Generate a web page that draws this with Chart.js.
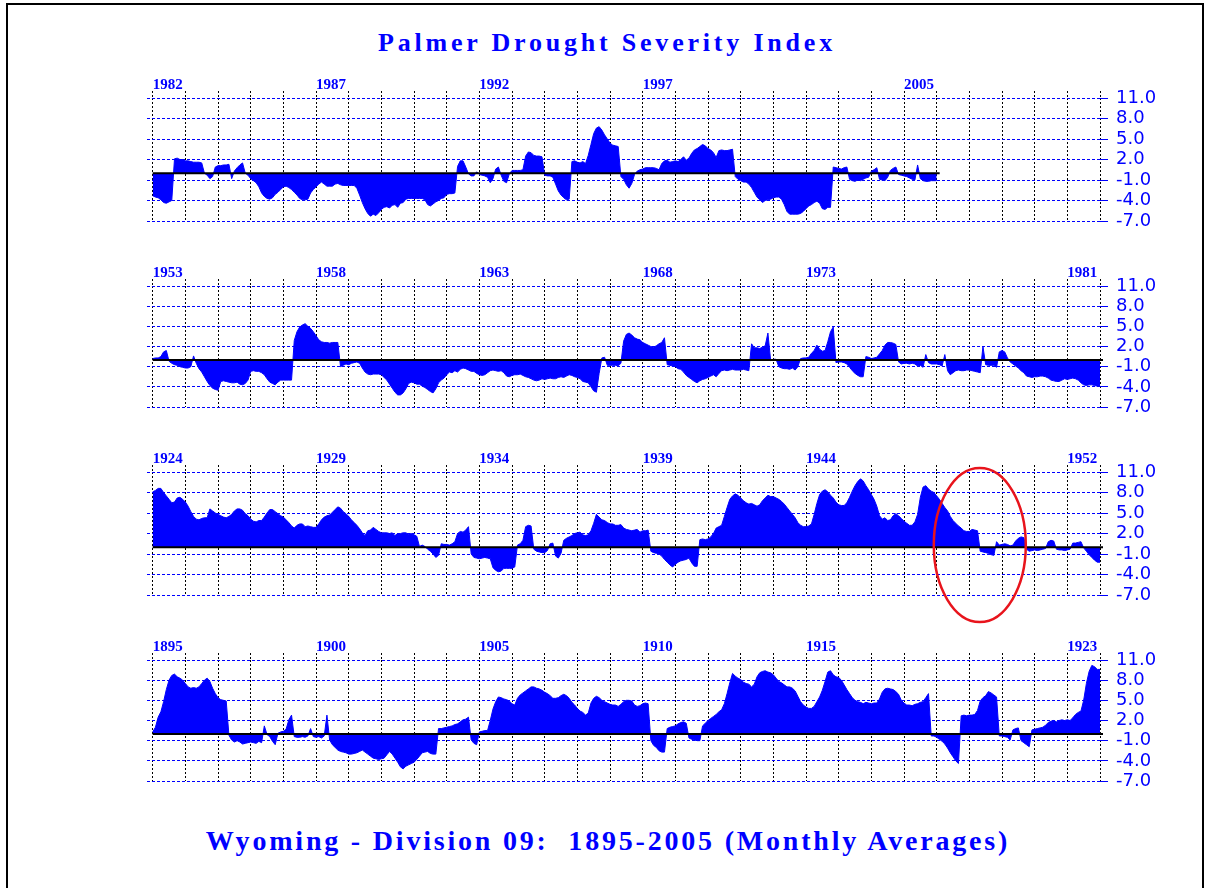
<!DOCTYPE html>
<html>
<head>
<meta charset="utf-8">
<title>Palmer Drought Severity Index</title>
<script src="https://cdn.jsdelivr.net/npm/chart.js@4.4.1/dist/chart.umd.min.js"></script>
<style>
  body { margin: 0; background: #fff; }
  #page { position: relative; width: 1206px; height: 888px; overflow: hidden; background: #fff; }
  #frame { position: absolute; left: 6px; top: 3px; width: 1194px; height: 900px; border: 2px solid #000; border-bottom: none; }
  .title { position: absolute; left: 0; width: 1206px; text-align: center; color: #0000ff;
           font-family: "Liberation Serif", serif; font-weight: bold; line-height: 1; white-space: pre; }
  #topTitle { top: 30px; font-size: 26px; letter-spacing: 3.8px; padding-left: 8px; box-sizing: border-box; }
  #bottomTitle { top: 827px; font-size: 28px; letter-spacing: 2.8px; padding-left: 10px; box-sizing: border-box; }
  canvas { position: absolute; left: 0; }
</style>
</head>
<body>
<div id="page">
  <div id="frame"></div>
  <div class="title" id="topTitle">Palmer Drought Severity Index</div>
  <canvas id="panel1" width="1206" height="180" style="top:68px"></canvas>
  <canvas id="panel2" width="1206" height="180" style="top:256px"></canvas>
  <canvas id="panel3" width="1206" height="190" style="top:442px"></canvas>
  <canvas id="panel4" width="1206" height="180" style="top:630px"></canvas>
  <div class="title" id="bottomTitle">Wyoming - Division 09:  1895-2005 (Monthly Averages)</div>
</div>
<script>
// monthly PDSI values, one row per year
const pdsi1982 = [
  -3.3, -3.5, -3.6, -3.9, -4.3, -4.4, -4.2, -4.0, 2.1, 2.2, 2.0, 2.0,
  1.8, 1.8, 1.7, 1.6, 1.6, 1.6, 1.5, 0.0, -0.3, -0.8, -0.5, 0.9,
  1.1, 1.1, 1.2, 1.2, 1.3, -0.8, 0.3, 0.8, 1.2, 1.5, 0.0, -0.3,
  -0.8, -1.1, -1.4, -2.0, -2.9, -3.4, -3.7, -3.8, -3.6, -3.1, -2.8, -2.4,
  -2.0, -1.9, -2.1, -2.4, -2.8, -3.2, -3.7, -3.9, -3.9, -3.8, -2.9, -2.4,
  -2.0, -1.6, -1.3, -1.6, -1.9, -1.9, -1.9, -1.6, -1.5, -1.7, -1.8, -1.8,
  -1.8, -1.8, -1.8, -2.2, -3.2, -4.3, -5.2, -5.9, -6.3, -6.0, -6.2, -5.8,
  -5.3, -5.0, -4.9, -5.1, -4.7, -4.6, -5.0, -4.4, -4.3, -3.8, -3.7, -3.7,
  -3.7, -3.7, -3.7, -3.7, -3.9, -4.6, -4.8, -4.5, -4.2, -4.0, -3.7, -3.6,
  -3.1, -3.0, -3.0, -2.9, 1.0, 1.8, 1.8, 0.9, -0.1, -0.4, -0.4, 0.2,
  -0.2, -0.3, -0.4, -0.6, -1.4, -0.8, 0.6, 0.9, -0.3, -1.2, -1.4, -0.1,
  0.4, 0.4, 0.4, 0.4, 0.5, 2.5, 3.1, 3.0, 2.6, 2.5, 2.5, 2.4,
  -0.3, -0.4, -0.4, -0.6, -1.6, -2.6, -3.2, -3.6, -3.9, -3.8, 1.7, 1.8,
  1.6, 1.5, 1.7, 1.4, 2.6, 4.2, 5.8, 6.6, 6.8, 6.3, 5.6, 5.0,
  4.4, 4.1, 4.0, 3.9, -0.5, -0.9, -1.7, -2.2, -1.5, -0.2, 0.3, 0.5,
  0.6, 0.8, 0.8, 0.8, 0.8, 0.7, 0.5, 1.4, 1.8, 1.9, 1.6, 1.7,
  1.8, 1.7, 2.0, 2.4, 1.9, 2.2, 2.9, 3.4, 3.6, 3.9, 4.2, 4.0,
  3.6, 3.4, 3.0, 2.3, 3.3, 3.4, 3.3, 3.3, 3.4, 3.5, -0.5, -0.9,
  -1.1, -1.3, -1.3, -1.6, -2.1, -2.8, -3.5, -3.9, -4.3, -4.0, -3.9, -3.8,
  -3.6, -3.5, -3.5, -3.8, -4.6, -5.6, -6.0, -6.0, -6.0, -6.0, -5.9, -5.6,
  -5.2, -4.8, -4.6, -4.3, -4.1, -4.4, -5.2, -5.3, -5.0, -5.0, 0.9, 0.8,
  0.7, 0.6, 0.8, 0.9, -0.9, -1.1, -1.2, -1.0, -1.1, -0.9, -0.7, -0.6,
  0.3, 0.5, 0.8, -0.9, -1.0, -1.1, -0.6, 0.4, 0.7, 0.9, -0.2, -0.3,
  -0.4, -0.5, -0.7, -0.9, -1.0, 1.2, -0.8, -1.1, -1.2, -1.2, -1.1, -1.1
];

const pdsi1953 = [
  0.2, 0.3, 0.3, 0.5, 1.2, 1.4, -0.2, -0.5, -0.7, -0.8, -1.0, -1.1,
  -1.2, -1.2, -1.0, 0.6, -0.5, -1.3, -1.8, -2.5, -3.2, -3.8, -4.2, -4.4,
  -4.5, -3.2, -3.1, -3.2, -3.3, -3.4, -3.4, -3.3, -3.6, -3.7, -3.5, -3.0,
  -1.7, -1.6, -1.7, -1.7, -1.9, -2.2, -2.8, -3.3, -3.5, -3.7, -3.3, -3.0,
  -3.0, -3.0, -3.0, -3.0, 2.9, 4.2, 4.9, 5.2, 5.4, 5.0, 4.7, 4.2,
  3.6, 3.0, 2.7, 2.6, 2.6, 2.5, 2.6, 2.6, 2.6, -1.0, -0.8, -0.6,
  -0.7, -0.5, -0.4, -0.3, -0.5, -1.2, -1.8, -2.1, -2.2, -2.1, -2.1, -2.1,
  -2.2, -2.6, -3.0, -3.6, -4.2, -4.8, -5.2, -5.2, -4.9, -4.3, -3.5, -3.3,
  -3.4, -3.6, -3.6, -3.9, -4.1, -4.4, -4.7, -4.9, -4.3, -3.4, -3.0, -2.7,
  -2.2, -1.8, -1.9, -1.6, -1.8, -1.4, -1.2, -1.3, -1.5, -1.7, -1.7, -2.0,
  -2.2, -2.3, -2.2, -1.9, -1.6, -1.5, -1.6, -1.7, -1.6, -1.9, -2.4, -2.5,
  -2.3, -2.2, -2.2, -2.1, -2.3, -2.5, -2.6, -2.8, -3.0, -3.1, -3.0, -2.8,
  -2.9, -2.8, -2.7, -2.8, -2.8, -2.6, -2.5, -2.6, -2.4, -2.2, -2.3, -2.5,
  -2.6, -2.8, -3.2, -3.3, -3.4, -4.0, -4.6, -4.8, -2.0, 0.3, 0.4, -0.8,
  -0.8, -0.8, -0.8, -0.9, -0.5, 2.8, 3.8, 4.0, 3.7, 3.3, 3.1, 3.0,
  2.6, 2.4, 2.2, 2.0, 1.9, 2.1, 2.4, 2.6, 3.3, -0.7, -0.8, -0.9,
  -1.0, -1.3, -1.4, -1.8, -2.3, -2.6, -2.9, -3.2, -3.4, -3.1, -2.9, -2.8,
  -2.6, -2.4, -2.2, -2.5, -2.0, -1.6, -1.5, -1.6, -1.5, -1.4, -1.5, -1.5,
  -1.5, -1.4, -1.5, -1.6, 2.4, 1.8, 1.8, 1.7, 1.9, 2.1, 4.0, -0.1,
  0.1, 0.1, -1.0, -1.2, -1.3, -1.3, -1.4, -1.2, -1.5, -1.0, 0.2, 0.3,
  0.3, 0.4, 1.0, 1.4, 2.2, 1.6, 1.3, 1.4, 2.7, 4.2, 4.9, -0.4,
  -0.3, -0.3, -0.4, -0.6, -1.1, -1.6, -2.0, -2.3, -2.5, -2.5, 0.5, 0.4,
  0.2, 0.3, 0.4, 0.9, 1.4, 2.2, 2.6, 2.6, 2.5, 2.3, -0.3, -0.6,
  -0.5, -0.5, -0.6, -0.5, -0.6, -0.9, -0.8, -1.1, 0.8, -0.4, -0.6, -0.6,
  -0.6, -0.7, -0.9, 0.8, -1.6, -2.2, -1.9, -1.6, -1.5, -1.6, -1.6, -1.5,
  -1.5, -1.6, -1.7, -1.8, -1.9, 2.0, -0.7, -0.8, -0.8, -0.8, -1.1, 1.2,
  1.4, 1.2, 0.3, -0.3, -0.6, -0.9, -1.2, -1.6, -1.9, -2.4, -2.5, -2.6,
  -2.5, -2.5, -2.4, -2.4, -2.5, -2.7, -3.0, -3.1, -3.2, -3.2, -3.0, -2.8,
  -2.9, -2.8, -2.7, -2.8, -3.0, -3.4, -3.7, -3.8, -3.7, -3.7, -3.8, -3.9
];

const pdsi1924 = [
  8.1, 8.3, 8.6, 8.6, 8.0, 7.5, 7.0, 6.5, 6.6, 7.2, 7.3, 7.0,
  6.6, 6.0, 5.2, 4.5, 4.1, 4.0, 4.2, 4.3, 4.3, 5.6, 5.3, 5.0,
  4.8, 4.6, 4.4, 4.3, 4.5, 4.8, 5.3, 5.6, 5.6, 5.4, 4.9, 4.6,
  4.1, 3.8, 3.7, 3.9, 3.9, 4.4, 5.0, 5.5, 5.5, 5.2, 4.9, 4.6,
  4.4, 4.0, 3.6, 3.1, 2.8, 3.2, 3.4, 3.4, 3.0, 3.1, 3.0, 2.9,
  2.9, 3.4, 4.0, 4.4, 4.6, 4.7, 5.1, 5.5, 5.9, 5.7, 5.2, 4.9,
  4.5, 4.0, 3.6, 3.2, 2.7, 2.1, 1.7, 2.4, 2.5, 2.9, 2.6, 2.3,
  2.1, 2.1, 2.1, 2.0, 2.1, 1.7, 2.0, 2.0, 2.1, 2.1, 1.9, 2.0,
  1.8, 1.6, 0.1, 0.3, 0.1, -0.3, -0.6, -1.0, -1.5, -1.2, 0.5, 0.4,
  0.4, 0.3, 0.5, 0.8, 2.0, 2.3, 2.2, 2.5, 3.0, -1.0, -1.5, -1.6,
  -1.7, -1.6, -1.5, -1.6, -1.7, -3.0, -3.4, -3.6, -3.5, -3.1, -3.1, -3.1,
  -3.1, -2.9, 0.3, 0.5, 1.0, 3.0, 3.2, 3.1, -0.3, -0.6, -0.7, -0.8,
  -0.8, -0.5, 0.5, 0.6, -1.3, -1.6, -0.9, 1.0, 1.3, 1.5, 1.7, 2.0,
  2.1, 2.2, 1.8, 1.7, 1.8, 2.4, 3.5, 4.8, 4.4, 4.0, 3.9, 3.6,
  3.4, 3.4, 3.2, 3.2, 3.3, 2.8, 2.6, 2.5, 2.4, 2.5, 2.6, 2.2,
  2.4, 2.4, 2.5, -0.6, -0.8, -0.9, -1.0, -1.3, -1.8, -2.2, -2.6, -2.9,
  -2.5, -2.2, -2.0, -1.9, -1.8, -1.6, -2.3, -2.8, -2.8, 1.1, 1.2, 1.1,
  1.2, 1.5, 2.0, 2.8, 3.0, 3.2, 4.5, 5.8, 7.0, 7.5, 7.8, 7.6,
  7.2, 6.8, 6.5, 6.3, 6.4, 6.2, 6.0, 6.2, 6.8, 7.2, 7.6, 7.4,
  7.4, 7.2, 7.0, 6.7, 6.3, 5.8, 5.3, 4.8, 4.3, 3.6, 3.2, 3.0,
  3.0, 3.1, 3.4, 4.8, 6.4, 7.7, 8.2, 8.4, 8.1, 7.6, 7.2, 6.6,
  6.2, 6.1, 6.1, 6.5, 7.3, 8.2, 9.0, 9.6, 10.0, 9.7, 9.0, 8.4,
  7.7, 7.0, 6.0, 4.6, 4.1, 4.3, 3.9, 4.0, 4.6, 4.9, 4.6, 4.2,
  3.8, 3.5, 3.2, 3.2, 3.7, 4.8, 7.3, 8.8, 9.0, 8.5, 8.2, 8.0,
  7.5, 7.0, 6.4, 5.8, 5.3, 4.5, 3.9, 3.5, 3.1, 2.8, 2.4, 2.3,
  2.3, 2.6, 2.5, 2.4, -0.6, -0.7, -0.8, -0.9, -1.1, -1.2, 0.8, 0.3,
  0.4, 0.5, 0.4, 0.2, 0.3, 0.9, 1.3, 1.5, 1.4, -0.3, -0.6, -0.5,
  -0.4, -0.5, -0.4, -0.3, -0.2, 0.8, 1.0, 0.9, -0.3, -0.4, -0.4, -0.5,
  -0.4, -0.3, 0.6, 0.6, 0.7, 0.8, -0.1, -0.6, -1.1, -1.5, -1.9, -2.2
];

const pdsi1895 = [
  0.3, 1.0, 2.5, 3.3, 4.8, 6.6, 8.0, 8.7, 8.9, 8.5, 8.3, 8.0,
  7.5, 7.0, 6.8, 6.9, 6.8, 7.0, 7.5, 8.0, 8.3, 7.8, 6.8, 6.0,
  5.4, 5.1, 5.0, 4.9, -0.2, -0.9, -1.2, -1.0, -1.2, -1.5, -1.4, -1.3,
  -1.2, -1.3, -1.4, -1.1, -1.3, 1.2, -0.1, -0.4, -1.1, -1.6, 0.1, 0.3,
  0.4, 0.7, 2.1, 2.8, -0.4, -0.5, -0.5, -0.4, -0.5, -0.3, 0.8, -0.4,
  -0.5, -0.4, -0.6, -0.3, 2.8, -0.9, -1.6, -2.0, -2.4, -2.6, -2.7, -2.8,
  -3.0, -3.0, -2.9, -2.8, -2.6, -2.4, -2.7, -3.0, -3.3, -3.6, -3.7, -3.8,
  -3.7, -3.6, -3.1, -2.6, -3.0, -3.6, -4.2, -4.9, -5.2, -4.8, -4.6, -4.4,
  -4.2, -3.8, -3.3, -2.8, -2.7, -2.6, -2.9, -3.0, -3.0, 0.8, 0.8, 0.9,
  1.0, 1.1, 1.2, 1.4, 1.5, 1.8, 2.1, 2.2, 2.5, -0.9, -1.4, -1.6,
  0.3, 0.4, 0.5, 0.5, 2.0, 3.7, 4.8, 5.5, 5.4, 5.2, 5.1, 4.9,
  4.5, 4.3, 5.3, 5.8, 6.1, 6.4, 6.7, 7.0, 7.0, 6.8, 6.7, 6.5,
  6.2, 6.0, 5.7, 5.3, 5.3, 5.4, 5.7, 5.9, 5.7, 5.3, 4.7, 4.3,
  3.8, 3.4, 3.2, 2.8, 3.1, 4.6, 5.3, 5.6, 5.4, 5.0, 4.8, 4.6,
  4.4, 4.3, 4.3, 4.1, 4.4, 4.8, 5.0, 5.0, 4.9, 4.3, 4.1, 4.2,
  4.5, 4.6, 4.5, -1.0, -1.7, -2.0, -2.5, -2.7, -2.7, 0.8, 1.0, 1.1,
  1.2, 1.5, 1.7, 1.8, 1.6, -0.6, -0.8, -0.9, -1.0, -1.0, 1.2, 1.6,
  2.0, 2.3, 2.6, 2.9, 3.3, 3.6, 4.5, 6.0, 7.6, 9.0, 8.6, 8.3,
  8.1, 7.7, 7.5, 7.4, 7.0, 7.4, 8.5, 9.1, 9.3, 9.4, 9.2, 9.1,
  8.8, 8.3, 7.8, 7.6, 7.3, 7.0, 7.0, 6.8, 6.4, 5.6, 4.8, 4.3,
  4.0, 3.8, 3.8, 4.1, 4.8, 5.5, 6.5, 7.8, 9.2, 9.4, 8.8, 8.5,
  8.4, 8.0, 7.3, 6.6, 6.0, 5.4, 5.0, 4.8, 4.7, 4.5, 4.7, 4.6,
  4.5, 4.6, 4.6, 5.2, 6.2, 6.7, 6.8, 6.7, 6.6, 6.3, 5.9, 5.0,
  4.6, 4.3, 4.3, 4.2, 4.4, 4.5, 4.7, 4.8, 5.4, 6.0, -0.3, -0.3,
  -0.5, -0.8, -1.1, -1.5, -2.1, -2.8, -3.4, -4.0, -4.4, 2.7, 2.8, 2.7,
  2.8, 2.8, 2.9, 3.5, 4.9, 5.4, 5.7, 6.3, 6.1, 5.8, 5.5, -0.3,
  -0.3, -0.4, -0.5, -0.9, 0.6, 0.8, 0.9, -1.0, -1.3, -1.6, -1.9, 0.6,
  0.7, 0.8, 0.9, 1.0, 1.3, 1.7, 1.9, 2.0, 1.8, 2.0, 2.1, 2.0,
  2.1, 2.0, 2.4, 2.9, 3.2, 3.4, 5.0, 7.5, 9.3, 10.2, 10.0, 9.6
];

// years printed above each strip
const labels1982 = [1982, 1987, 1992, 1997, 2005];
const labels1953 = [1953, 1958, 1963, 1968, 1973, 1981];
const labels1924 = [1924, 1929, 1934, 1939, 1944, 1952];
const labels1895 = [1895, 1900, 1905, 1910, 1915, 1923];

const yTicks = [-7, -4, -1, 2, 5, 8, 11];
const yearsPerStrip = 29;

// black line at zero over the span of the data
const zeroLine = {
  id: "zeroLine",
  afterDatasetsDraw(chart) {
    const ctx = chart.ctx;
    const xs = chart.scales.x;
    const ys = chart.scales.y;
    const pts = chart.data.datasets[0].data;
    const y0 = ys.getPixelForValue(0);
    ctx.save();
    ctx.strokeStyle = "#000";
    ctx.lineWidth = 2;
    ctx.beginPath();
    ctx.moveTo(xs.getPixelForValue(pts[0].x), y0);
    ctx.lineTo(xs.getPixelForValue(pts[pts.length - 1].x) + 3, y0);
    ctx.stroke();
    ctx.restore();
  },
};

// red ring drawn round the late 1940s
const redRing = {
  id: "redRing",
  afterDraw(chart) {
    const ctx = chart.ctx;
    const xs = chart.scales.x;
    const ys = chart.scales.y;
    ctx.save();
    ctx.strokeStyle = "#e8141c";
    ctx.lineWidth = 2.5;
    ctx.beginPath();
    ctx.ellipse(xs.getPixelForValue(1949.32), ys.getPixelForValue(0.3), 46, 77, 0, 0, Math.PI * 2);
    ctx.stroke();
    ctx.restore();
  },
};

function makeStrip(canvasId, year0, values, yearLabels, areaHeight, extra) {
  const canvas = document.getElementById(canvasId);
  const points = values.map(function (v, i) {
    return { x: year0 + i / 12, y: v };
  });
  points.push({ x: year0 + values.length / 12, y: values[values.length - 1] });

  return new Chart(canvas, {
    type: "line",
    data: {
      datasets: [
        {
          data: points,
          fill: "origin",
          backgroundColor: "#0000ff",
          borderColor: "#0000ff",
          borderWidth: 1,
          pointRadius: 0,
          tension: 0,
        },
      ],
    },
    options: {
      responsive: false,
      animation: false,
      devicePixelRatio: 1,
      layout: {
        padding: { left: 147, right: 0, top: 0, bottom: canvas.height - 30 - areaHeight },
      },
      plugins: {
        legend: { display: false },
        tooltip: { enabled: false },
      },
      scales: {
        x: {
          type: "linear",
          position: "top",
          min: year0 - 0.175,
          max: year0 + yearsPerStrip,
          afterBuildTicks: function (scale) {
            const ticks = [];
            for (let k = 0; k <= yearsPerStrip; k++) ticks.push({ value: year0 + k });
            scale.ticks = ticks;
          },
          afterFit: function (scale) {
            scale.height = 30;
          },
          grid: {
            color: "#000",
            lineWidth: 1,
            tickLength: 7,
            tickColor: "#000",
            tickBorderDash: [2, 2],
          },
          border: { display: false, dash: [2, 2] },
          ticks: {
            autoSkip: false,
            maxRotation: 0,
            align: "start",
            padding: -3,
            color: "#0000ff",
            font: { family: "Liberation Serif", weight: "bold", size: 15 },
            callback: function (value) {
              return yearLabels.includes(value) ? String(value) : "";
            },
          },
        },
        y: {
          position: "right",
          min: -7,
          max: 11,
          afterBuildTicks: function (scale) {
            scale.ticks = yTicks.map(function (v) {
              return { value: v };
            });
          },
          afterFit: function (scale) {
            scale.width = 106;
          },
          grid: {
            color: "#0000ff",
            lineWidth: 1,
            tickLength: 8,
            tickColor: "#0000ff",
            tickBorderDash: [],
          },
          border: { display: false, dash: [3, 2] },
          ticks: {
            autoSkip: false,
            color: "#0000ff",
            padding: 8,
            font: { family: "DejaVu Sans", size: 18, lineHeight: 1 },
            callback: function (value) {
              return value.toFixed(1);
            },
          },
        },
      },
    },
    plugins: [zeroLine].concat(extra || []),
  });
}

makeStrip("panel1", 1982, pdsi1982, labels1982, 123);
makeStrip("panel2", 1953, pdsi1953, labels1953, 121);
makeStrip("panel3", 1924, pdsi1924, labels1924, 123, [redRing]);
makeStrip("panel4", 1895, pdsi1895, labels1895, 121);
</script>
</body>
</html>
